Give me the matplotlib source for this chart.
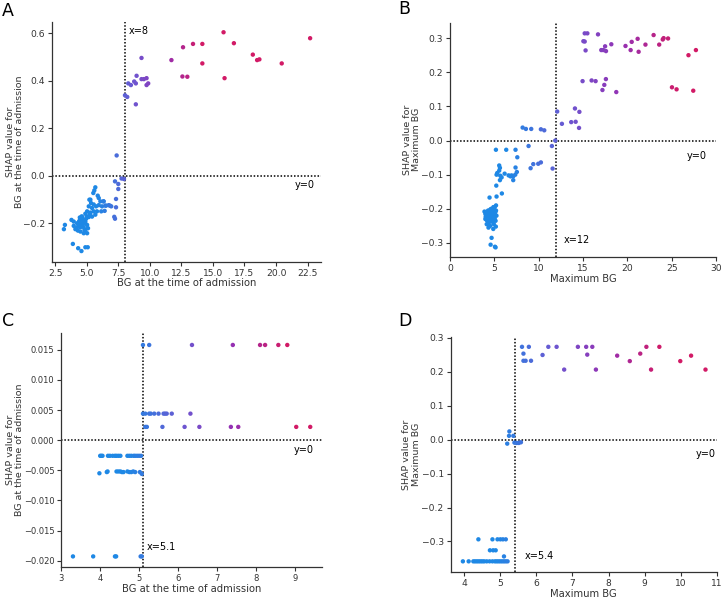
import numpy as np
import matplotlib
matplotlib.use("Agg")
import matplotlib.pyplot as plt
from matplotlib.colors import LinearSegmentedColormap, Normalize

# ---------------- Panel A: BG at the time of admission ----------------
a_x = [11.71, 12.63, 13.42, 14.16, 12.58, 12.97, 14.16, 15.84, 15.92, 16.66, 18.16, 18.5, 18.68, 20.45, 22.7,
       9.34, 8.89, 8.95, 8.29, 8.5, 8.76, 9.34, 9.53, 9.74, 9.74, 9.87, 8.03, 8.21, 8.89,
       7.37, 7.24, 7.5, 7.5, 7.32, 7.32, 7.18, 7.24, 7.76, 7.95,
       5.68, 5.60, 5.52, 5.87, 5.95, 6.08, 6.34, 5.29, 5.34, 5.16, 5.42, 5.74, 5.95, 6.21, 6.47, 6.74, 6.94,
       6.42, 6.15, 5.81, 5.55, 5.29, 5.03, 4.89, 5.68, 5.42, 5.16, 4.63, 4.50, 4.76, 3.79, 3.97, 4.24, 4.37,
       4.63, 4.89, 5.03, 4.76, 4.50, 4.24, 4.89, 4.50, 4.76, 5.03, 4.10, 3.97, 3.27, 3.19, 4.50,
       3.90, 4.32, 4.58, 4.89, 5.08, 6.84, 6.53, 6.32, 5.21, 4.95, 4.70, 4.40, 5.10, 4.85, 4.60, 4.30, 5.00,
       4.68, 4.82, 5.25, 5.55, 4.45]
a_y = [0.487, 0.541, 0.555, 0.555, 0.418, 0.417, 0.473, 0.604, 0.411, 0.558, 0.51, 0.487, 0.49, 0.473, 0.579,
       0.496, 0.389, 0.421, 0.389, 0.382, 0.397, 0.407, 0.407, 0.411, 0.382, 0.389, 0.339, 0.332, 0.301,
       0.086, -0.023, -0.034, -0.055, -0.097, -0.132, -0.172, -0.18, -0.011, -0.013,
       -0.048, -0.061, -0.072, -0.083, -0.093, -0.107, -0.107, -0.100, -0.114, -0.128, -0.135, -0.128, -0.123,
       -0.128, -0.125, -0.123, -0.128,
       -0.147, -0.149, -0.149, -0.149, -0.154, -0.149, -0.159, -0.163, -0.171, -0.173, -0.173, -0.185, -0.185,
       -0.185, -0.192, -0.199, -0.206,
       -0.199, -0.192, -0.206, -0.216, -0.216, -0.216, -0.227, -0.234, -0.241, -0.241, -0.224, -0.210, -0.206,
       -0.224, -0.178,
       -0.286, -0.304, -0.316, -0.300, -0.300, -0.125, -0.125, -0.107, -0.100, -0.180, -0.200, -0.190, -0.220,
       -0.195, -0.170, -0.230, -0.170,
       -0.205, -0.228, -0.160, -0.120, -0.175]

# ---------------- Panel B: Maximum BG ----------------
b_x = [27.74, 26.9, 27.44, 25.56, 25.04, 22.97, 24.0, 24.1, 24.6, 23.6, 22.05, 21.17, 21.28, 20.5, 20.38,
       19.8, 18.2, 17.5, 17.6, 17.3, 17.07, 16.7, 15.5, 15.2, 15.05, 15.2, 15.3,
       14.96, 15.98, 16.43, 17.59, 17.41, 17.2, 18.76,
       12.1, 14.1, 14.6, 12.63, 13.68, 14.18, 14.56,
       8.2, 8.57, 9.17, 10.26, 10.64, 8.87, 11.5, 11.88, 9.1, 9.4, 9.96, 10.26, 11.58,
       5.19, 6.35, 7.4, 7.6, 7.4, 7.55, 5.56, 5.64, 5.56, 5.34, 5.26, 5.68, 5.83, 5.64, 6.17, 6.62, 6.84,
       6.95, 7.14, 7.37, 7.14, 5.23, 5.86, 5.26, 4.47,
       4.89, 4.7, 4.59, 5.08, 5.15,
       3.9, 4.0, 4.05, 4.1, 4.2, 4.25, 4.3, 4.4, 4.45, 4.5, 4.55, 4.6, 4.65, 4.7, 4.75, 4.8, 4.85, 4.9,
       4.95, 5.0, 5.05, 5.1, 5.15, 5.2, 5.25, 4.0, 4.15, 4.35, 4.5, 4.65, 4.8, 4.95, 5.1, 5.2, 4.3,
       4.6, 4.9, 5.05, 4.4, 4.75, 5.18, 4.05, 4.55, 4.85, 5.0]
b_y = [0.265, 0.25, 0.146, 0.15, 0.156, 0.309, 0.296, 0.3, 0.299, 0.281, 0.281, 0.298, 0.26, 0.289, 0.265,
       0.277, 0.282, 0.276, 0.262, 0.265, 0.265, 0.311, 0.314, 0.314, 0.291, 0.29, 0.264,
       0.174, 0.176, 0.174, 0.18, 0.163, 0.148, 0.142,
       0.085, 0.094, 0.084, 0.049, 0.054, 0.055, 0.037,
       0.038, 0.034, 0.034, 0.033, 0.030, -0.016, -0.016, 0.0, -0.081, -0.069, -0.068, -0.064, -0.082,
       -0.027, -0.027, -0.027, -0.049, -0.079, -0.092, -0.073, -0.080, -0.088, -0.095, -0.100, -0.103,
       -0.108, -0.116, -0.097, -0.102, -0.105, -0.102, -0.105, -0.100, -0.116, -0.132, -0.155, -0.164,
       -0.167,
       -0.259, -0.285, -0.305, -0.311, -0.313,
       -0.208, -0.215, -0.225, -0.210, -0.235, -0.220, -0.205, -0.240, -0.228, -0.212, -0.250, -0.230,
       -0.218, -0.222, -0.205, -0.238, -0.200, -0.215, -0.245, -0.225, -0.195, -0.210, -0.235, -0.205,
       -0.220, -0.230, -0.245, -0.255, -0.215, -0.200, -0.235, -0.225, -0.210, -0.190, -0.245, -0.212,
       -0.195, -0.228, -0.218, -0.232, -0.252, -0.222, -0.202, -0.218, -0.208]

# ---------------- Panel C: BG at the time of admission ----------------
c_x = [5.10, 5.26, 6.36, 7.41, 8.11, 8.24, 8.58, 8.81,
       5.10, 5.16, 5.26, 5.30, 5.39, 5.50, 5.63, 5.67, 5.71, 5.84, 6.32,
       5.16, 5.20, 5.60, 6.17, 6.55, 7.36, 7.55, 9.04, 9.40,
       4.00, 4.03, 4.06, 4.20, 4.25, 4.32, 4.38, 4.42, 4.47, 4.52, 4.70, 4.75, 4.80, 4.86, 4.90, 4.95, 5.00,
       5.05,
       3.98, 4.17, 4.19, 4.42, 4.47, 4.52, 4.56, 4.60, 4.70, 4.75, 4.80, 4.85, 4.90, 5.02, 5.07,
       3.30, 3.82, 4.38, 4.41, 5.04, 5.07]
c_y = [0.0158] * 8 + [0.0044] * 11 + [0.0022] * 9 + [-0.0026] * 18 + \
      [-0.0055, -0.0053, -0.0052, -0.0052, -0.0052, -0.0052, -0.0053, -0.0053, -0.0052, -0.0053, -0.0053,
       -0.0052, -0.0053, -0.0053, -0.0056] + [-0.0193] * 6

# ---------------- Panel D: Maximum BG ----------------
d_x = [5.60, 5.79, 5.64, 5.64, 5.70, 5.85, 6.17, 6.33, 6.56, 6.77, 7.15, 7.38, 7.41, 7.55, 7.65, 8.24,
       8.59, 8.88, 9.05, 9.18, 9.41, 9.99, 10.29, 10.69,
       5.25, 5.24, 5.36, 5.19, 5.39, 5.45, 5.51, 5.57,
       4.39, 4.78, 4.92, 5.00, 5.07, 5.15,
       4.71, 4.80, 4.87,
       5.10,
       3.96, 4.12, 4.25, 4.30, 4.35, 4.40, 4.45, 4.50, 4.55, 4.62, 4.70, 4.78, 4.85, 4.90, 4.95, 5.00,
       5.05, 5.10, 5.15, 5.20]
d_y = [0.273, 0.273, 0.253, 0.232, 0.232, 0.232, 0.249, 0.273, 0.273, 0.206, 0.273, 0.273, 0.25, 0.273,
       0.206, 0.247, 0.231, 0.253, 0.273, 0.206, 0.273, 0.231, 0.247, 0.206,
       0.024, 0.011, 0.011, -0.012, -0.009, -0.010, -0.010, -0.008] + \
      [-0.2937] * 6 + [-0.326] * 3 + [-0.344] + [-0.3585] * 20

labels = ["A", "B", "C", "D"]
xlabels = ["BG at the time of admission", "Maximum BG", "BG at the time of admission", "Maximum BG"]
ylabels = ["SHAP value for\nBG at the time of admission", "SHAP value for\nMaximum BG",
           "SHAP value for\nBG at the time of admission", "SHAP value for\nMaximum BG"]
thresholds = [8, 12, 5.1, 5.4]
xtext = ["x=8", "x=12", "x=5.1", "x=5.4"]

cmap = LinearSegmentedColormap.from_list("rb", ["#1E88E5", "#6A58D2", "#9630B2", "#D21A66"])

fig = plt.figure(figsize=(7.21, 5.99), dpi=100)
positions = [[0.072, 0.563, 0.373, 0.401], [0.624, 0.571, 0.369, 0.391],
             [0.085, 0.053, 0.362, 0.391], [0.625, 0.045, 0.369, 0.393]]
data = [(a_x, a_y), (b_x, b_y), (c_x, c_y), (d_x, d_y)]
norms = [(5.8, 14.0), (6.5, 26.0), (4.7, 8.8), (4.9, 9.5)]
xlims = [(2.24, 23.55), (0, 30), (3.0, 9.71), (3.62, 11.0)]
ylims = [(-0.361, 0.649), (-0.341, 0.345), (-0.0211, 0.01778), (-0.39, 0.303)]
xticks = [np.arange(2.5, 23, 2.5), np.arange(0, 31, 5), np.arange(3, 10, 1), np.arange(4, 12, 1)]
yticks = [[-0.2, 0.0, 0.2, 0.4, 0.6], [-0.3, -0.2, -0.1, 0.0, 0.1, 0.2, 0.3],
          [-0.020, -0.015, -0.010, -0.005, 0.0, 0.005, 0.010, 0.015],
          [-0.3, -0.2, -0.1, 0.0, 0.1, 0.2, 0.3]]
yfmt = ["{:.1f}", "{:.1f}", "{:.3f}", "{:.1f}"]
xfmt = ["{:.1f}", "{:.0f}", "{:.0f}", "{:.0f}"]
tick_sizes = [6.6, 6.6, 6.0, 6.6]
# y-label anchor (right edge of the rotated two-line label), in axes fraction
ylabel_x = [-0.104, -0.109, -0.142, -0.112]
ytext0 = [(23.1, -0.037), (28.95, -0.044), (9.48, -0.0016), (10.96, -0.043)]
xtextpos = [(8.35, 0.61), (12.8, -0.29), (5.2, -0.0177), (5.68, -0.342)]

for i in range(4):
    ax = fig.add_axes(positions[i])
    n = min(len(data[i][0]), len(data[i][1]))
    x, y = np.array(data[i][0][:n]), np.array(data[i][1][:n])
    ax.scatter(x, y, c=x, cmap=cmap, norm=Normalize(*norms[i]), s=10, linewidths=0, zorder=3)
    ax.axvline(thresholds[i], color="black", linestyle=(0, (1, 1.2)), lw=1.1, zorder=2)
    ax.axhline(0, color="black", linestyle=(0, (1, 1.2)), lw=1.1, zorder=2)
    ax.set_xlim(*xlims[i])
    ax.set_ylim(*ylims[i])
    ax.set_xticks(xticks[i])
    ax.set_xticklabels([xfmt[i].format(v) for v in xticks[i]])
    ax.set_yticks(yticks[i])
    ax.set_yticklabels([yfmt[i].format(v).replace("-", "\u2212") for v in yticks[i]])
    for s in ["top", "right"]:
        ax.spines[s].set_visible(False)
    for s in ["left", "bottom"]:
        ax.spines[s].set_color("#333333")
        ax.spines[s].set_linewidth(0.9)
    ax.tick_params(colors="#333333", labelsize=tick_sizes[i], length=3, width=0.8, pad=2)
    ax.set_xlabel(xlabels[i], fontsize=7.2, color="#333333", labelpad=0.5)
    ax.set_ylabel(ylabels[i], fontsize=6.8, color="#333333", linespacing=1.05)
    ax.yaxis.set_label_coords(ylabel_x[i], 0.5)
    ax.text(*ytext0[i], "y=0", ha="right", va="center", fontsize=7, color="black")
    ax.text(*xtextpos[i], xtext[i], ha="left", va="center", fontsize=7, color="black")

letter_pos = [(0.003, 0.982), (0.553, 0.985), (0.003, 0.464), (0.553, 0.464)]
for lab, (lx, ly) in zip(labels, letter_pos):
    fig.text(lx, ly, lab, fontsize=12.5, ha="left", va="center", color="black")

fig.savefig("out.png", dpi=100)
